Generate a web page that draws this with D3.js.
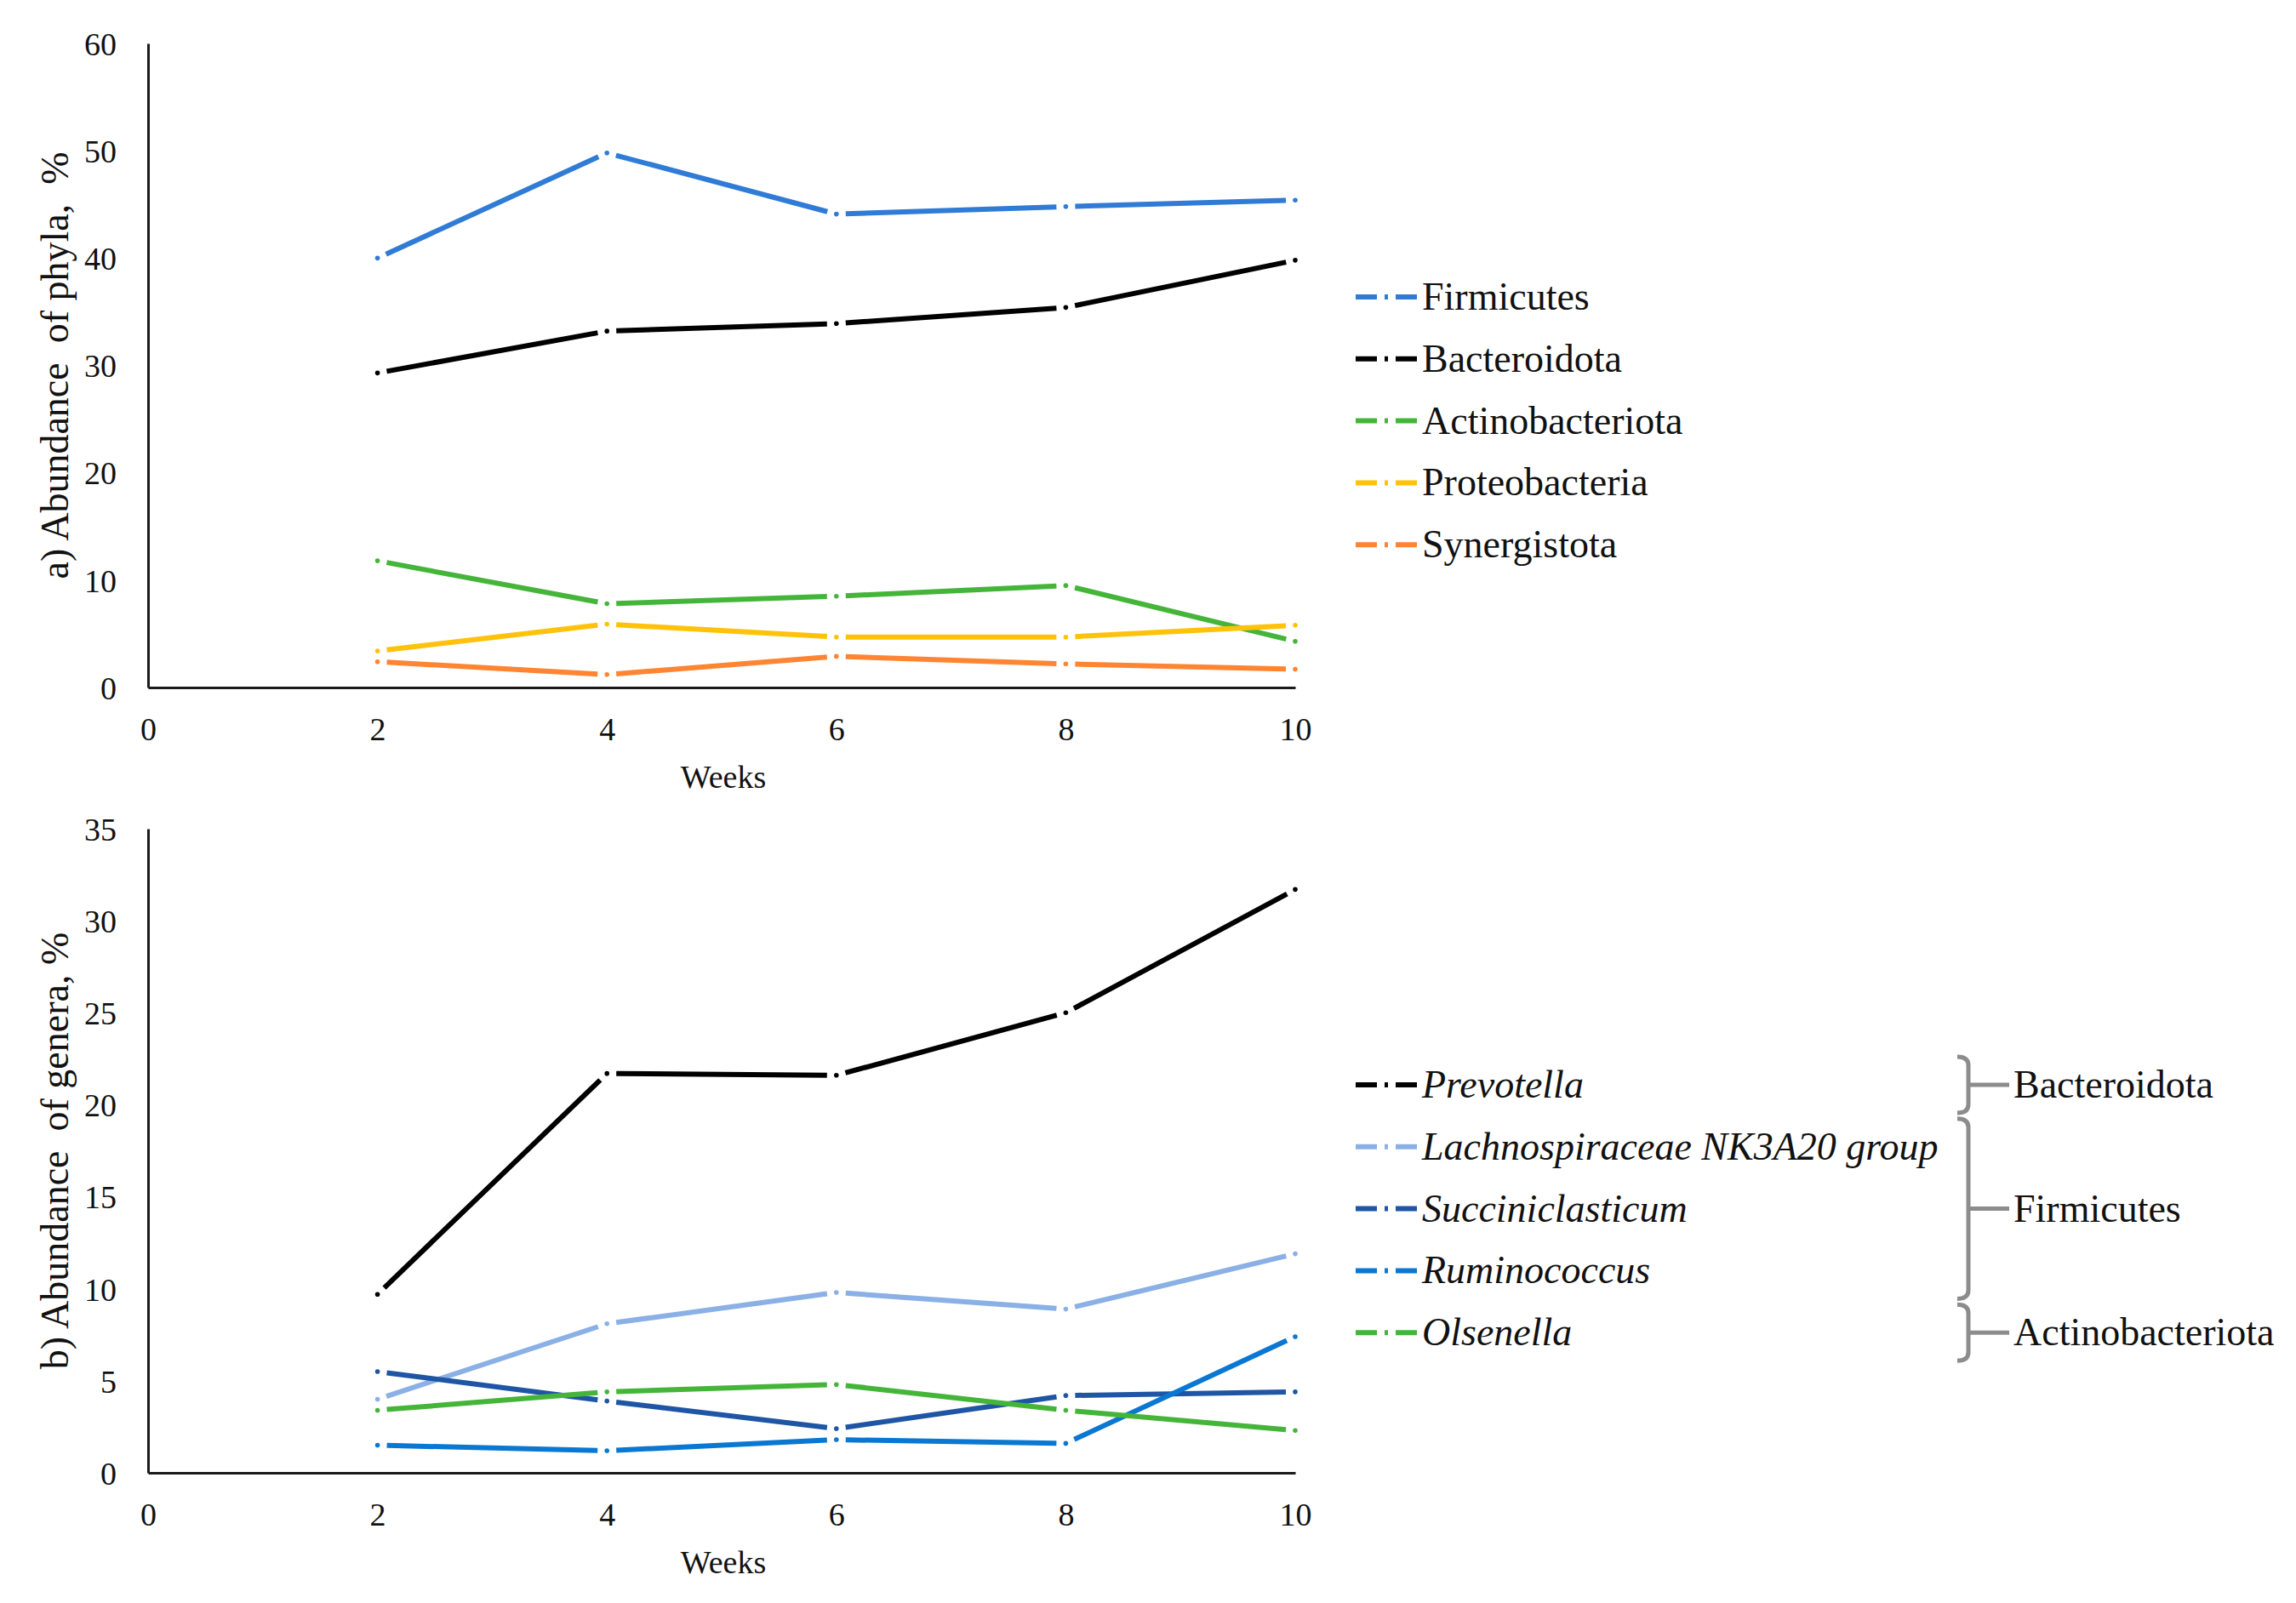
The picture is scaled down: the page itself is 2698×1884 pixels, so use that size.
<!DOCTYPE html>
<html>
<head>
<meta charset="utf-8">
<script src="https://cdn.jsdelivr.net/npm/d3@7"></script>
<style>
  body { margin: 0; background: #fff; }
  svg text { font-family: "Liberation Serif", "Times New Roman", serif; fill: #111; }
</style>
</head>
<body>
<svg id="chart" width="2698" height="1884"></svg>
<script>
// ---- data ----
const weeks = [2, 4, 6, 8, 10];
const xTicks = [0, 2, 4, 6, 8, 10];

const phylaNames = ["Firmicutes", "Bacteroidota", "Actinobacteriota", "Proteobacteria", "Synergistota"];
const firmicutes = [40.0, 49.8, 44.1, 44.8, 45.4];
const bacteroidota = [29.3, 33.2, 33.9, 35.4, 39.8];
const actinobacteriota = [11.8, 7.8, 8.5, 9.5, 4.3];
const proteobacteria = [3.4, 5.9, 4.7, 4.7, 5.8];
const synergistota = [2.4, 1.2, 2.9, 2.2, 1.7];
const phylaColors = ["#2f7bd6", "#000000", "#45b53a", "#ffc20a", "#ff8532"];
const phylaTicks = [0, 10, 20, 30, 40, 50, 60];

const generaNames = ["Prevotella", "Lachnospiraceae NK3A20 group", "Succiniclasticum", "Ruminococcus", "Olsenella"];
const generaPhylum = ["Bacteroidota", "Firmicutes", "Firmicutes", "Firmicutes", "Actinobacteriota"];
const prevotella = [9.7, 21.7, 21.6, 25.0, 31.7];
const lachnospiraceae = [4.0, 8.1, 9.8, 8.9, 11.9];
const succiniclasticum = [5.5, 3.9, 2.4, 4.2, 4.4];
const ruminococcus = [1.5, 1.2, 1.8, 1.6, 7.4];
const olsenella = [3.4, 4.4, 4.8, 3.4, 2.3];
const generaColors = ["#000000", "#8ab0e6", "#1f55a5", "#0a78d2", "#45b53a"];
const generaTicks = [0, 5, 10, 15, 20, 25, 30, 35];

const phylaSeries = [firmicutes, bacteroidota, actinobacteriota, proteobacteria, synergistota]
  .map((v, i) => ({ name: phylaNames[i], color: phylaColors[i], values: v }));
const generaSeries = [prevotella, lachnospiraceae, succiniclasticum, ruminococcus, olsenella]
  .map((v, i) => ({ name: generaNames[i], color: generaColors[i], values: v, phylum: generaPhylum[i] }));

const svg = d3.select("#chart");
const x = d3.scaleLinear().domain([0, 10]).range([174, 1522]);
const gap = 11;

function panel(opts) {
  const { series, ticks, top, bottom, yMax, label, legendTop, italic } = opts;
  const y = d3.scaleLinear().domain([0, yMax]).range([bottom, top]);
  const g = svg.append("g");

  // axes
  const yAxis = g.append("g").attr("transform", `translate(${x(0)},0)`)
    .call(d3.axisLeft(y).tickValues(ticks).tickSize(0).tickPadding(37));
  const xAxis = g.append("g").attr("transform", `translate(0,${y(0)})`)
    .call(d3.axisBottom(x).tickValues(xTicks).tickSize(0));
  [yAxis, xAxis].forEach(a => {
    a.select(".domain").attr("stroke", "#1a1a1a").attr("stroke-width", 3);
    a.selectAll("text").attr("font-size", 38).attr("fill", "#111")
      .style("font-family", "Liberation Serif");
  });
  xAxis.selectAll("text").attr("y", 49).attr("dy", "0.35em");
  yAxis.selectAll("text").attr("dy", "0.35em");

  g.append("text")
    .attr("x", 850).attr("y", y(0) + 118)
    .attr("text-anchor", "middle").attr("font-size", 38)
    .text("Weeks");

  g.append("text")
    .attr("transform", `translate(80,${(top + bottom) / 2}) rotate(-90)`)
    .attr("text-anchor", "middle").attr("font-size", 46)
    .style("white-space", "pre")
    .text(label);

  // lines: dash between points, dot at each point
  series.forEach(s => {
    const pts = s.values.map((v, i) => [x(weeks[i]), y(v)]);
    const segs = d3.pairs(pts).map(([a, b]) => {
      const dx = b[0] - a[0], dy = b[1] - a[1];
      const len = Math.hypot(dx, dy);
      const ux = dx / len, uy = dy / len;
      return [a[0] + ux * gap, a[1] + uy * gap, b[0] - ux * gap, b[1] - uy * gap];
    });
    g.append("g").selectAll("line").data(segs).join("line")
      .attr("x1", d => d[0]).attr("y1", d => d[1])
      .attr("x2", d => d[2]).attr("y2", d => d[3])
      .attr("stroke", s.color).attr("stroke-width", 6);
    g.append("g").selectAll("circle").data(pts).join("circle")
      .attr("cx", d => d[0]).attr("cy", d => d[1]).attr("r", 2.8)
      .attr("fill", s.color);
  });

  // legend
  const rowY = i => legendTop + i * 72.8;
  const lg = g.append("g");
  series.forEach((s, i) => {
    lg.append("line")
      .attr("x1", 1593).attr("x2", 1665).attr("y1", rowY(i)).attr("y2", rowY(i))
      .attr("stroke", s.color).attr("stroke-width", 6)
      .attr("stroke-dasharray", "25 9 4 9 25");
    lg.append("text")
      .attr("x", 1671).attr("y", rowY(i) + 15)
      .attr("font-size", 46)
      .attr("font-style", italic ? "italic" : "normal")
      .text(s.name);
  });
  return rowY;
}

panel({
  series: phylaSeries, ticks: phylaTicks, top: 51, bottom: 808, yMax: 60,
  label: "a) Abundance  of phyla,  %", legendTop: 349, italic: false
});

const rowY = panel({
  series: generaSeries, ticks: generaTicks, top: 974, bottom: 1731, yMax: 35,
  label: "b) Abundance  of genera, %", legendTop: 1275, italic: true
});

// phylum brackets beside the genus legend
const groups = d3.groups(generaSeries.map((s, i) => ({ i, phylum: s.phylum })), d => d.phylum);
const bx = 2313;
const bg = svg.append("g");
groups.forEach(([phylum, members]) => {
  const first = d3.min(members, d => d.i), last = d3.max(members, d => d.i);
  const y0 = rowY(first) - 33, y1 = rowY(last) + 33, ym = (rowY(first) + rowY(last)) / 2;
  bg.append("path")
    .attr("d", `M${bx - 13},${y0} Q${bx},${y0} ${bx},${y0 + 10} L${bx},${y1 - 10} Q${bx},${y1} ${bx - 13},${y1}`)
    .attr("fill", "none").attr("stroke", "#8c8c8c").attr("stroke-width", 5);
  bg.append("line")
    .attr("x1", bx).attr("x2", bx + 48).attr("y1", ym).attr("y2", ym)
    .attr("stroke", "#8c8c8c").attr("stroke-width", 5);
  bg.append("text")
    .attr("x", 2366).attr("y", ym + 15)
    .attr("font-size", 46)
    .text(phylum);
});
</script>
</body>
</html>
